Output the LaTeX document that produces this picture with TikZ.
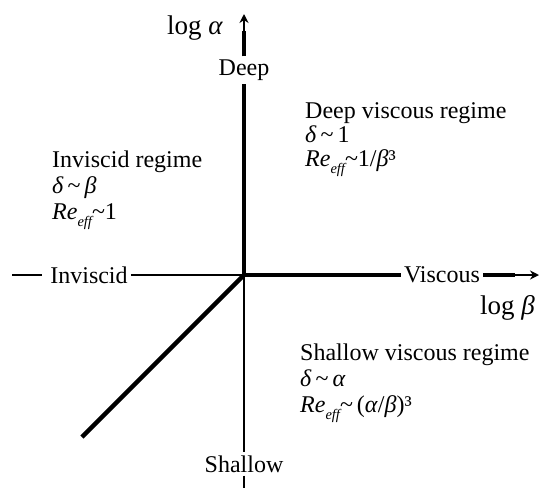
\documentclass[tikz,border=0pt]{standalone}
\usepackage{fontspec}
\setmainfont{Liberation Serif}
\usetikzlibrary{arrows.meta}
\newcommand{\lblfont}{\fontsize{24}{26}\selectfont}
\newcommand{\logfont}{\fontsize{27}{29}\selectfont}
\newcommand{\effsub}{\raisebox{-7pt}{\fontsize{14.5}{14.5}\selectfont\itshape eff}}
\tikzset{
  axthick/.style={line width=4.5pt},
  axthin/.style={line width=2pt},
  regtxt/.style={font=\lblfont, inner sep=0pt, anchor=base west},
  logtxt/.style={font=\logfont, inner sep=0pt, anchor=base west},
  axlabel/.style={font=\lblfont, inner sep=3pt},
  tipline/.style={line width=2.5pt, -{Stealth[length=9pt,width=9pt]}}
}
\begin{document}
\begin{tikzpicture}[x=1pt,y=-1pt]
\useasboundingbox (0,0) rectangle (546,488);
% key points
\coordinate (O) at (244,275);
\coordinate (L) at (12,275);
\coordinate (B) at (244,488);
\coordinate (D) at (82,437);
\coordinate (tstart) at (244,31);
\coordinate (ttip) at (244,14);
\coordinate (rstart) at (515,275);
\coordinate (rtip) at (539,275);
% axis labels
\node[axlabel] (deep) at (244,70) {Deep};
\node[axlabel] (shallow) at (244,464) {Shallow};
\node[axlabel] (inv) at (89,275) {Inviscid};
\node[axlabel] (visc) at (442,275) {Viscous};
\node[logtxt] (la) at (167,34) {log \textit{α}};
\node[logtxt] (lb) at (480,314) {log \textit{β}};
% axes
\draw[axthin, shorten >=5pt] (L) -- (inv.west);
\draw[axthin] (inv.east) -- (O);
\draw[axthin] (O) -- (shallow.north);
\draw[axthin] (shallow.south) -- (B);
\draw[axthick] (O) -- (deep.south);
\draw[axthick] (deep.north) -- (tstart);
\draw[tipline] (tstart) -- (ttip);
\draw[axthick] (O) -- (visc.west);
\draw[axthick] (visc.east) -- (rstart);
\draw[tipline] (rstart) -- (rtip);
\draw[axthick] (O) -- (D);
% regimes
\node[regtxt] (i1) at (52,167) {Inviscid regime};
\node[regtxt] (i2) at (52,193) {\textit{δ}\,\textasciitilde\,\textit{β}};
\node[regtxt] (i3) at (52,219) {\textit{Re}\effsub\textasciitilde 1};
\node[regtxt] (d1) at (305,118) {Deep viscous regime};
\node[regtxt] (d2) at (305,142) {\textit{δ}\,\textasciitilde\,1};
\node[regtxt] (d3) at (305,166) {\textit{Re}\effsub\textasciitilde 1/\textit{β}³};
\node[regtxt] (s1) at (300,360) {Shallow viscous regime};
\node[regtxt] (s2) at (300,386) {\textit{δ}\,\textasciitilde\,\textit{α}};
\node[regtxt] (s3) at (300,412) {\textit{Re}\effsub\textasciitilde\,(\textit{α}/\textit{β})³};
\end{tikzpicture}
\end{document}
